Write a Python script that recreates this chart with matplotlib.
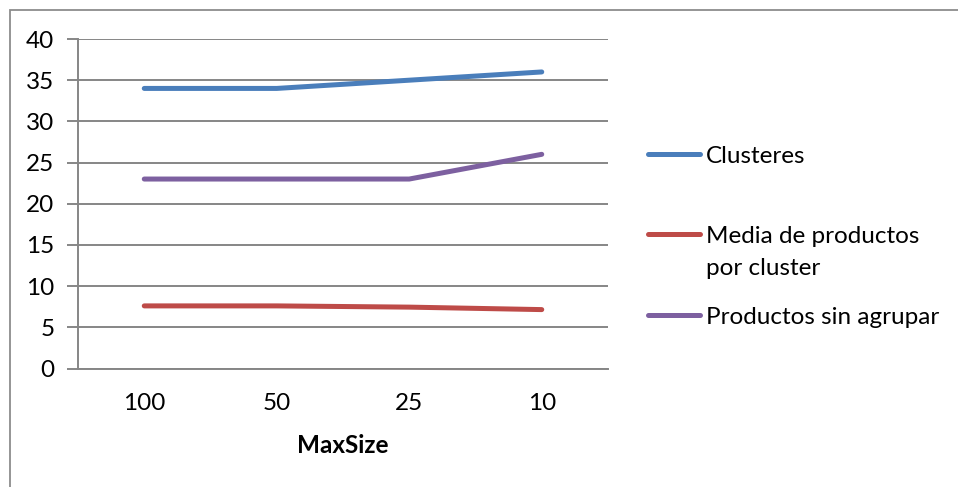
import matplotlib
matplotlib.use("Agg")
import matplotlib.pyplot as plt
from matplotlib.lines import Line2D
from matplotlib.patches import Rectangle

# Data
categories = ["100", "50", "25", "10"]
clusteres = [34, 34, 35, 36]
media_productos = [7.6, 7.6, 7.45, 7.15]
productos_sin_agrupar = [23, 23, 23, 26]
series_names = ["Clusteres", "Media de productos\npor cluster", "Productos sin agrupar"]
y_ticks = [0, 5, 10, 15, 20, 25, 30, 35, 40]

colors = ["#4A7EBB", "#BE4B48", "#7D60A0"]
grid_color = "#868686"
font = ["Lato", "DejaVu Sans"]
fs = 17.5

W, H = 958, 487
fig = plt.figure(figsize=(W / 100, H / 100), dpi=100)
fig.patch.set_facecolor("white")

# outer chart border (top and left edges visible)
fig.add_artist(Rectangle((9.5 / W, -0.05), 1.1, (H - 10) / H + 0.05,
                         transform=fig.transFigure, fill=False,
                         edgecolor="#8C8C8C", linewidth=1.3))

left, right = 78 / W, 608 / W
bottom, top = (H - 368.5) / H, (H - 39) / H
ax = fig.add_axes([left, bottom, right - left, top - bottom])

x = list(range(len(categories)))
for vals, c in zip([clusteres, media_productos, productos_sin_agrupar], colors):
    ax.plot(x, vals, color=c, linewidth=3.6, solid_capstyle="round", zorder=3)

ax.set_xlim(-0.5, len(categories) - 0.5)
ax.set_ylim(0, 40)
ax.set_yticks(y_ticks)
ax.set_xticks(x)
ax.set_xticklabels(categories)
ax.yaxis.grid(True, color=grid_color, linewidth=1.4)
ax.set_axisbelow(True)

for s in ["top", "right"]:
    ax.spines[s].set_visible(False)
ax.spines["left"].set_color(grid_color)
ax.spines["left"].set_linewidth(1.4)
ax.spines["bottom"].set_color(grid_color)
ax.spines["bottom"].set_linewidth(1.4)

ax.tick_params(axis="y", length=8, width=1.4, color=grid_color, pad=9,
               labelsize=fs)
ax.tick_params(axis="x", length=0, pad=18, labelsize=fs)
for lab in ax.get_xticklabels() + ax.get_yticklabels():
    lab.set_family(font)

ax.set_xlabel("MaxSize", fontsize=fs, fontweight="bold", family=font,
              labelpad=14)

# legend drawn at fixed positions to the right of the plot
legend_rows = [154, 234, 315]
for name, c, yrow in zip(series_names, colors, legend_rows):
    yf = (H - yrow) / H
    fig.add_artist(Line2D([648 / W, 700 / W], [yf, yf], transform=fig.transFigure,
                          color=c, linewidth=3.6, solid_capstyle="round"))
    for i, line in enumerate(name.split("\n")):
        fig.text(706 / W, (H - yrow - 9 - 32 * i) / H, line, fontsize=fs,
                 family=font, va="baseline", ha="left")

fig.savefig("out.png", dpi=100, facecolor="white")
